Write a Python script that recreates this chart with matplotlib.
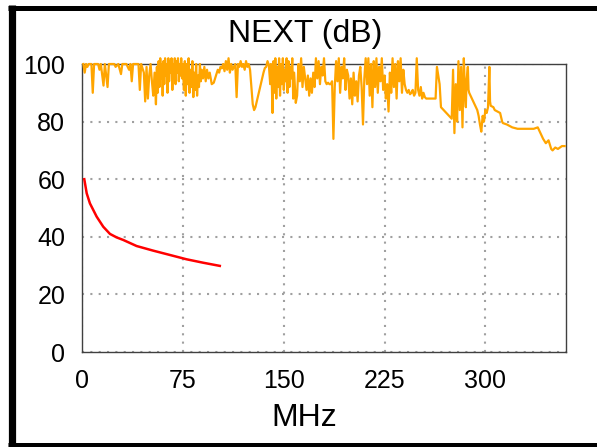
import matplotlib
matplotlib.use("Agg")
import matplotlib.pyplot as plt
from matplotlib.lines import Line2D

plt.rcParams['font.family'] = ['Liberation Sans', 'DejaVu Sans']

# ---- data ----
title = "NEXT (dB)"
xlabel = "MHz"
x_ticks = [0, 75, 150, 225, 300]
y_ticks = [0, 20, 40, 60, 80, 100]

limit_freq = [1.7, 3.5, 5.9, 10.9, 15.8, 20.8, 25.7, 30.7, 40.6, 52.9, 65.3, 77.7, 90.1, 102.5]
limit_db = [60.0, 55.1, 51.6, 47.0, 43.5, 41.0, 39.8, 38.9, 36.8, 35.2, 33.7, 32.2, 31.0, 29.9]

meas_freq = [
    1, 2, 3, 4, 5, 7, 8, 9, 12, 13, 14, 16, 17, 19, 20, 24, 25, 27, 29, 30,
    33, 35, 36, 37, 38, 42, 43, 44, 46, 47, 48, 49, 50, 51, 52, 53, 54, 55,
    55.7, 56.3, 57, 57.6, 58.2, 58.8, 59.4, 60, 60.6, 61.2, 61.8, 62.4, 63, 63.6,
    64.2, 64.8, 65.4, 66, 66.6, 67.2, 67.8, 68.4, 69, 69.6, 70.2, 70.8, 71.4, 72,
    72.6, 73.2, 73.8, 74.4, 75,
    75.8, 76.5, 77.2, 77.9, 78.6, 79.3, 80, 80.7, 81.4, 82.1, 82.8, 83.5, 84.2,
    84.9, 85.6, 86.3, 87, 87.7, 88.4, 89,
    90, 91, 92, 93, 94, 95, 96.5, 98, 99, 100, 101, 102, 103, 104, 105, 106, 107,
    108, 109, 110, 111, 112, 113, 114, 115, 116, 117, 118, 119, 120, 121, 122,
    123, 124, 125, 126, 127, 128, 129, 130, 131, 132, 133, 134, 135, 136, 137,
    138, 139, 140, 140.5,
    141, 141.7, 142.4, 143.1, 143.8, 144.5, 145.2, 145.9, 146.6, 147.3, 148,
    148.7, 149.4, 150.1, 150.8, 151.5, 152.2, 152.9, 153.6, 154.3, 155, 155.7,
    156.4, 157.1, 157.8,
    158.5, 159, 160, 161, 162, 163, 164, 165, 166,
    167, 168, 169, 170, 171, 172, 173,
    174, 175, 176, 177, 178, 179, 180, 181,
    182, 183, 184, 185, 186, 187, 188,
    189, 190, 191, 192, 193, 194, 195, 196, 197, 198,
    199, 200, 201, 202, 203, 204, 205, 206,
    207, 208, 209, 210, 211, 212,
    213, 214, 215, 216, 217, 218, 219, 220, 221, 222, 223, 224,
    225, 226, 227, 228, 229, 230,
    231, 232, 233, 234, 235, 236, 237, 238, 239, 240,
    241, 242, 243, 244, 245, 246, 247, 248,
    249, 250, 251, 252, 253, 254, 255,
    256, 258, 260, 262, 263,
    264, 265, 266, 267, 269, 271, 273, 275,
    276, 277, 278, 279, 280, 281, 282, 283, 284, 285,
    285.5, 286, 287, 287.5,
    288, 290, 292, 294, 295, 296, 297, 298, 299, 300, 301, 302, 303, 303.5,
    304, 306, 307, 309, 311, 312.5, 313, 316, 320, 324, 330, 336, 339, 341,
    343, 345, 347, 349, 350, 352, 354, 357, 359,
]
meas_db = [
    100, 97, 100, 99, 100, 100, 90, 100, 100, 98, 100, 92.5, 100, 92, 100, 100, 99, 100, 96.5, 100,
    100, 98, 100, 94, 100, 100, 91, 100, 97, 87, 99, 88, 96, 100, 94, 89, 97, 86,
    99, 90, 101, 92, 102, 95, 100, 89, 101, 93, 102, 96, 100, 90,
    102, 94, 101, 97, 102, 91, 100, 95, 102, 93, 101, 97, 102, 94,
    100, 96, 102, 95, 100,
    91, 101, 89, 100, 93, 102, 90, 98, 92, 101, 88.5, 97, 91,
    100, 89, 96, 92, 100, 94, 98,
    95, 99, 94, 98, 95, 97, 93, 93.5, 95, 96.5, 98, 97, 99, 98.5, 100, 97.5, 101,
    98, 102, 97, 100, 98, 99, 100, 88.5, 100, 99, 101, 99, 100, 98, 101,
    99, 100, 98, 92, 86, 84, 85, 87, 89, 91, 93, 95, 97, 98.6, 99,
    101, 99.5, 93, 100,
    97, 83, 101, 90, 102, 88, 99, 92, 102, 89, 100,
    93, 102, 91, 98, 94, 102, 90, 101, 92, 99, 95,
    102, 88, 97,
    91, 86.5, 89, 100, 94, 102, 92, 99, 95,
    91, 96, 89, 95, 90, 97, 92,
    102, 95, 101, 93, 99, 96, 102, 94,
    93, 93.5, 93, 93, 94, 74, 92,
    101, 94, 102, 90, 99, 95, 102, 91, 98, 96,
    88, 95, 86, 97, 89, 94, 87, 96,
    99, 92, 79, 95, 102, 93,
    102, 89, 100, 85, 101, 92, 102, 90, 99, 94, 102, 91,
    96, 88, 93, 83.5, 97, 90,
    102, 92, 100, 88, 101, 94, 102, 90, 98, 93,
    91, 90, 91, 89.5, 90, 91, 89, 90,
    102, 91, 89, 92, 88, 90, 88.5,
    88, 88, 88, 88, 88,
    99, 96, 93, 85, 84, 83, 82, 81,
    98, 76, 93, 80, 101, 84, 99, 78, 102, 88,
    85, 94, 99, 91,
    90, 88, 86, 84, 82, 79, 76.5, 82, 80, 84, 83, 85, 99, 87,
    85.5, 85, 84, 83.5, 83, 80, 79.5, 79, 78, 77.5, 77.5, 77.5, 78, 76,
    74, 72.5, 73.5, 70.5, 70, 71, 70.5, 71.5, 71.5,
]

# ---- figure ----
W, H = 597, 447
fig = plt.figure(figsize=(W / 100, H / 100), dpi=100)
fig.patch.set_facecolor('white')

ax = fig.add_axes([82 / W, (H - 352) / H, 484 / W, 288 / H])
ax.plot(meas_freq, meas_db, color='#FFA500', lw=1.6, clip_on=False, zorder=3)
ax.plot(limit_freq, limit_db, color='#FF0000', lw=1.8, zorder=4)

ax.set_xlim(0, 360)
ax.set_ylim(0, 100)
ax.set_xticks(x_ticks)
ax.set_yticks(y_ticks)
ax.tick_params(length=0, labelsize=18, colors='#000000')
ax.tick_params(axis='y', pad=12)
ax.tick_params(axis='x', pad=12)
ax.grid(True, color='#a0a0a0', linestyle=(0, (1, 3)), lw=1.5)
for s in ax.spines.values():
    s.set_color('#404040')
    s.set_linewidth(1.0)

fig.text(305 / W, 1 - 34 / H, title, fontsize=23, ha='center', va='center')
fig.text(304 / W, 1 - 418 / H, xlabel, fontsize=23, ha='center', va='center')

# figure frame
def fline(x0, y0, x1, y1, lw):
    fig.add_artist(Line2D([x0 / W, x1 / W], [1 - y0 / H, 1 - y1 / H],
                          color='black', lw=lw, transform=fig.transFigure,
                          solid_capstyle='butt'))

fline(11.5, 5, 11.5, H, 5.2)
fline(8, 7.5, W, 7.5, 3.6)
fline(8, 445, W, 445, 3.6)

fig.savefig('out.png', dpi=100)
